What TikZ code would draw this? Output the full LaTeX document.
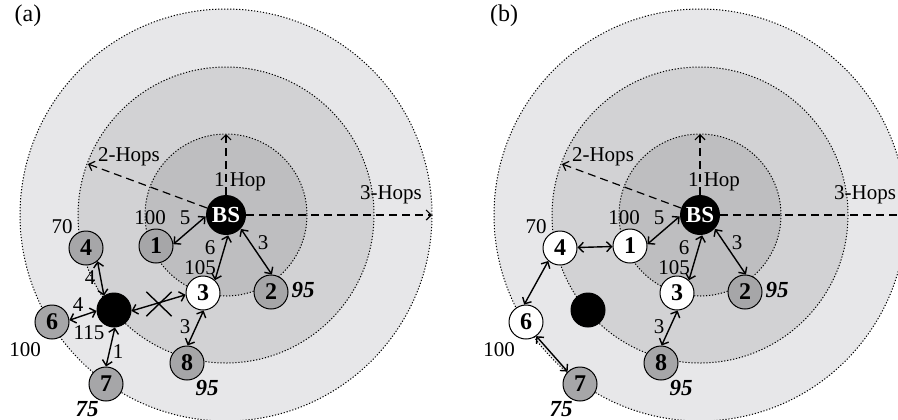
\documentclass[tikz,border=0pt]{standalone}
\usepackage{fontspec}
\setmainfont{Liberation Serif}
\usetikzlibrary{arrows.meta,shapes.misc}
\definecolor{ringout}{RGB}{231,231,233}
\definecolor{ringmid}{RGB}{210,210,212}
\definecolor{ringin}{RGB}{190,190,192}
\definecolor{nodegray}{RGB}{166,166,168}
\begin{document}
\begin{tikzpicture}[x=0.5pt, y=-0.5pt, font=\fontsize{10.5}{12}\selectfont]
    % Styles
    \tikzstyle{ring} = [draw, line width=0.5pt, dash pattern=on 0.6pt off 0.9pt]
    \tikzstyle{sensor} = [circle, draw, line width=0.5pt, fill=nodegray, minimum size=17pt, inner sep=0pt, font=\fontsize{12}{13}\selectfont\bfseries]
    \tikzstyle{active} = [sensor, fill=white]
    \tikzstyle{dead} = [sensor, fill=black]
    \tikzstyle{sink} = [circle, fill=black, text=white, minimum size=20pt, inner sep=0pt, font=\fontsize{11.5}{12}\selectfont\bfseries]
    \tikzstyle{hop} = [line width=0.6pt, dash pattern=on 4pt off 2.5pt, -{Straight Barb[length=2.5pt,width=5pt]}]
    \tikzstyle{link} = [line width=0.7pt, {Straight Barb[length=2.5pt,width=5pt]}-{Straight Barb[length=2.5pt,width=5pt]}]
    \tikzstyle{cost} = [inner sep=0pt]
    \tikzstyle{energy} = [inner sep=0pt, font=\fontsize{11.5}{12}\selectfont\bfseries\itshape]
    \tikzstyle{tag} = [inner sep=0pt, font=\fontsize{12}{13}\selectfont]

    \clip (0,0) rectangle (898,419);

    % Panel (a)
    \begin{scope}[name prefix=a-]
        % Rings
        \coordinate (c) at (226,215);
        \draw [ring, fill=ringout] (c) circle [radius=206];
        \draw [ring, fill=ringmid] (c) circle [radius=148];
        \draw [ring, fill=ringin] (c) circle [radius=81];
        \node (tag) [tag] at (28,16) {(a)};

        % Nodes
        \node (bs) [sink] at (c) {BS};
        \node (n1) [sensor] at (156,246) {1};
        \node (n2) [sensor] at (271,292) {2};
        \node (n3) [active] at (203,293) {3};
        \node (n4) [sensor] at (86,248) {4};
        \node (n5) [dead] at (114,310) {};
        \node (n6) [sensor] at (52,322) {6};
        \node (n7) [sensor] at (106,384) {7};
        \node (n8) [sensor] at (187,363) {8};

        % Hops
        \coordinate (h1) at (226,134);
        \coordinate (h2) at (88,164);
        \coordinate (h3) at (432,215);
        \draw [hop] (bs) -- (h1);
        \draw [hop] (bs) -- (h2);
        \draw [hop] (bs) -- (h3);
        \node (t1) at (240,182) {1 Hop};
        \node (t2) at (129,157) {2-Hops};
        \node (t3) at (391,195) {3-Hops};

        % Links
        \draw [link] (bs.184) -- (n1.6);
        \draw [link] (bs.-84) -- (n3.47);
        \draw [link] (bs.-43) -- (n2.87);
        \draw [link] (n4.-49) -- (n5.125);
        \draw [link] (n6.6) -- (n5.183);
        \draw [link] (n5.-87) -- (n7.90);
        \draw [link] (n5.-3) -- (n3.186);
        \draw [link] (n3.-88) -- (n8.88);
        \node (cut) [draw, cross out, line width=0.7pt, minimum width=12pt, minimum height=11.5pt] at (159,304) {};

        % Labels
        \node (e1) [cost] at (150,218) {100};
        \node (w1) [cost] at (185,218) {5};
        \node (e4) [cost] at (62,227) {70};
        \node (w4) [cost] at (90,278) {4};
        \node (w6) [cost] at (78,305) {4};
        \node (e5) [cost] at (89,333) {115};
        \node (e6) [cost] at (25,350) {100};
        \node (w7) [cost] at (118,352) {1};
        \node (e7) [energy] at (87,409) {75};
        \node (e2) [energy] at (303,290) {95};
        \node (e8) [energy] at (207,388) {95};
        \node (w3) [cost] at (210,248) {6};
        \node (e3) [cost] at (200,268) {105};
        \node (w2) [cost] at (263,243) {3};
        \node (w8) [cost] at (185,327) {3};
    \end{scope}

    % Panel (b)
    \begin{scope}[name prefix=b-, xshift=237pt]
        % Rings
        \coordinate (c) at (226,215);
        \draw [ring, fill=ringout] (c) circle [radius=206];
        \draw [ring, fill=ringmid] (c) circle [radius=148];
        \draw [ring, fill=ringin] (c) circle [radius=81];
        \node (tag) [tag] at (30,16) {(b)};

        % Nodes
        \node (bs) [sink] at (c) {BS};
        \node (n1) [active] at (156,246) {1};
        \node (n2) [sensor] at (271,292) {2};
        \node (n3) [active] at (203,293) {3};
        \node (n4) [active] at (86,248) {4};
        \node (n5) [dead] at (114,310) {};
        \node (n6) [active] at (52,322) {6};
        \node (n7) [sensor] at (106,384) {7};
        \node (n8) [sensor] at (187,363) {8};

        % Hops
        \coordinate (h1) at (226,134);
        \coordinate (h2) at (88,164);
        \coordinate (h3) at (432,215);
        \draw [hop] (bs) -- (h1);
        \draw [hop] (bs) -- (h2);
        \draw [hop] (bs) -- (h3);
        \node (t1) at (240,182) {1 Hop};
        \node (t2) at (129,157) {2-Hops};
        \node (t3) at (391,195) {3-Hops};

        % Links
        \draw [link] (bs.184) -- (n1.6);
        \draw [link] (bs.-84) -- (n3.47);
        \draw [link] (bs.-43) -- (n2.87);
        \draw [link] (n4) -- (n1);
        \draw [link] (n4.228) -- (n6.96);
        \draw [link] (n6.-54) -- (n7.135);
        \draw [link] (n3.-88) -- (n8.88);

        % Labels
        \node (e1) [cost] at (150,218) {100};
        \node (w1) [cost] at (185,218) {5};
        \node (e4) [cost] at (62,227) {70};
        \node (e6) [cost] at (25,350) {100};
        \node (e7) [energy] at (87,409) {75};
        \node (e2) [energy] at (303,290) {95};
        \node (e8) [energy] at (207,388) {95};
        \node (w3) [cost] at (210,248) {6};
        \node (e3) [cost] at (200,268) {105};
        \node (w2) [cost] at (263,243) {3};
        \node (w8) [cost] at (185,327) {3};
    \end{scope}
\end{tikzpicture}
\end{document}
